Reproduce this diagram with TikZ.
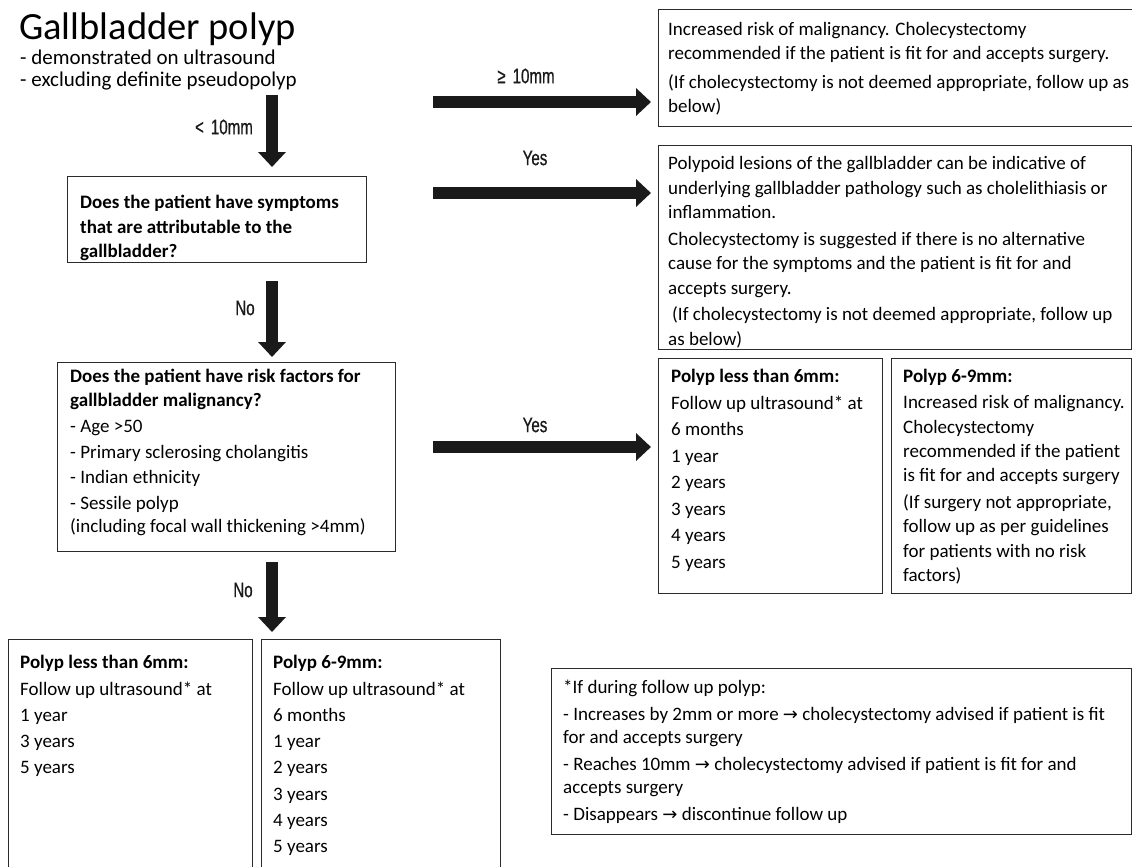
\documentclass[tikz,border=0pt]{standalone}
\usepackage{fontspec}
\setmainfont{Carlito}
\newfontfamily\labfont[FakeStretch=0.72,FakeBold=0.6]{Liberation Sans}
\newfontfamily\symfont{DejaVu Sans}
\usetikzlibrary{arrows.meta,calc}
\newcommand\firstl{\rule{0pt}{14pt}}
\newcommand\rarr{{\symfont\fontsize{18}{18}\selectfont →}}
\definecolor{arrowcol}{HTML}{1A1A1A}
\definecolor{boxcol}{HTML}{2B2B2B}
\begin{document}
\begin{tikzpicture}[x=1pt,y=-1pt,
  box/.style={draw=boxcol, line width=1.4pt, anchor=north west, inner sep=0pt},
  txt/.style={anchor=north west, align=left, inner sep=0pt, font=\fontsize{19}{23.5}\selectfont},
  lab/.style={font=\labfont\fontsize{21}{21}\selectfont, inner sep=0pt, text=arrowcol},
  bigarrow/.style={draw=arrowcol, line width=12pt, -{Triangle[width=27pt,length=15pt]}},
]
\useasboundingbox[fill=white] (0,0) rectangle (1132,867);

% title
\node[anchor=base west, inner sep=0pt, font=\fontsize{38.5}{38.5}\selectfont] (title) at (19,40) {Gallbladder polyp};
\node[anchor=base west, inner sep=0pt, font=\fontsize{21}{21}\selectfont] (sub1) at (20,64.5) {- demonstrated on ultrasound};
\node[anchor=base west, inner sep=0pt, font=\fontsize{21}{21}\selectfont] (sub2) at (20,86.5) {- excluding definite pseudopolyp};

% boxes
\node[box, minimum width=474pt, minimum height=117pt] (bA) at (658,9) {};
\node[box, minimum width=473pt, minimum height=204pt] (bB) at (658,145) {};
\node[box, minimum width=299pt, minimum height=86pt] (bQ1) at (67,176) {};
\node[box, minimum width=338pt, minimum height=189pt] (bQ2) at (57,362) {};
\node[box, minimum width=224pt, minimum height=235pt] (bC1) at (658,358) {};
\node[box, minimum width=240pt, minimum height=235pt] (bC2) at (891,358) {};
\node[box, minimum width=244pt, minimum height=250pt] (bD1) at (8,639) {};
\node[box, minimum width=239pt, minimum height=250pt] (bD2) at (261,639) {};
\node[box, minimum width=580pt, minimum height=166pt] (bE) at (551,668) {};

% texts
\node[txt, font=\fontsize{19}{24}\selectfont] (tA) at (668,21) {\firstl Increased risk of malignancy. Cholecystectomy\\
recommended if the patient is fit for and accepts surgery.\\[5pt]
(If cholecystectomy is not deemed appropriate, follow up as\\
below)};

\node[txt, font=\fontsize{19}{24.5}\selectfont] (tB) at (668,155.5) {\firstl Polypoid lesions of the gallbladder can be indicative of\\
underlying gallbladder pathology such as cholelithiasis or\\
inflammation.\\[2pt]
Cholecystectomy is suggested if there is no alternative\\
cause for the symptoms and the patient is fit for and\\
accepts surgery.\\[2pt]
\hspace{4pt}(If cholecystectomy is not deemed appropriate, follow up\\
as below)};

\node[txt, font=\fontsize{19}{24.5}\selectfont\bfseries] (tQ1) at (80,194.5) {\firstl Does the patient have symptoms\\
that are attributable to the\\
gallbladder?};

\node[txt] (tQ2) at (70,368.5) {\firstl\textbf{Does the patient have risk factors for}\\
\textbf{gallbladder malignancy?}\\[3pt]
- Age >50\\[2pt]
- Primary sclerosing cholangitis\\[2pt]
- Indian ethnicity\\[2pt]
- Sessile polyp\\
(including focal wall thickening >4mm)};

\node[txt, font=\fontsize{19}{26.5}\selectfont] (tC1) at (671,368.5) {\firstl\textbf{Polyp less than 6mm:}\\
Follow up ultrasound* at\\
6 months\\
1 year\\
2 years\\
3 years\\
4 years\\
5 years};

\node[txt, font=\fontsize{19}{24.2}\selectfont] (tC2) at (903,368.5) {\firstl\textbf{Polyp 6-9mm:}\\[2pt]
Increased risk of malignancy.\\
Cholecystectomy\\
recommended if the patient\\
is fit for and accepts surgery\\[3pt]
(If surgery not appropriate,\\
follow up as per guidelines\\
for patients with no risk\\
factors)};

\node[txt, font=\fontsize{19}{26.3}\selectfont] (tD1) at (20,654.5) {\firstl\textbf{Polyp less than 6mm:}\\
Follow up ultrasound* at\\
1 year\\
3 years\\
5 years};

\node[txt, font=\fontsize{19}{26.3}\selectfont] (tD2) at (273,654.5) {\firstl\textbf{Polyp 6-9mm:}\\
Follow up ultrasound* at\\
6 months\\
1 year\\
2 years\\
3 years\\
4 years\\
5 years};

\node[txt] (tE) at (563,679.5) {\firstl *If during follow up polyp:\\[3pt]
- Increases by 2mm or more \rarr{} cholecystectomy advised if patient is fit\\
for and accepts surgery\\[3pt]
- Reaches 10mm \rarr{} cholecystectomy advised if patient is fit for and\\
accepts surgery\\[3pt]
- Disappears \rarr{} discontinue follow up};

% arrows
\coordinate (s0) at (272,95);
\coordinate (s1) at (433,102);
\coordinate (s2) at (433,193);
\coordinate (s3) at (433,447);
\draw[bigarrow, shorten >=9pt] (s0) -- (s0 |- bQ1.north);
\draw[bigarrow, shorten >=7pt] (s1) -- (s1 -| bA.west);
\draw[bigarrow, shorten >=7pt] (s2) -- (s2 -| bB.west);
\draw[bigarrow, shorten <=18pt, shorten >=5pt] (bQ1.south -| s0) -- (bQ2.north -| s0);
\draw[bigarrow, shorten >=7pt] (s3) -- (s3 -| bC1.west);
\draw[bigarrow, shorten <=10pt, shorten >=7pt] (bQ2.south -| s0) -- (bD1.north -| s0);

% labels
\node[lab] (l1) at (224,127) {<\hspace{7pt}10mm};
\node[lab] (l2) at (526,76) {≥\hspace{7pt}10mm};
\node[lab] (l3) at (535,158) {Yes};
\node[lab] (l4) at (245,308) {No};
\node[lab] (l5) at (535,425) {Yes};
\node[lab] (l6) at (243,590) {No};
\end{tikzpicture}
\end{document}
